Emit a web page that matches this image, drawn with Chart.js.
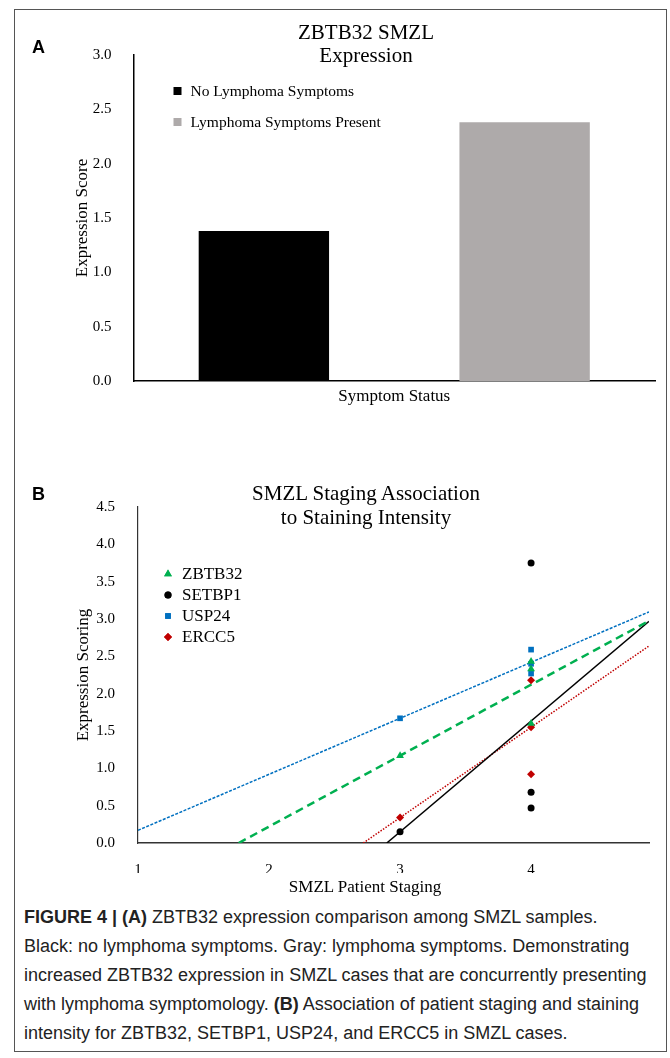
<!DOCTYPE html>
<html>
<head>
<meta charset="utf-8">
<script src="https://cdn.jsdelivr.net/npm/chart.js@4.4.1/dist/chart.umd.min.js"></script>
<style>
  body { margin: 0; width: 670px; height: 1058px; position: relative; background: #fff; overflow: hidden; }
  #frame { position: absolute; left: 14px; top: 9px; width: 651px; height: 1041px; border: 1.5px solid #555; }
  .wrap { position: absolute; left: 0; width: 670px; }
  .panel { position: absolute; left: 32px; font: bold 18px "Liberation Sans", Arial, sans-serif; line-height: 18px; }
  .title { position: absolute; left: 216px; width: 300px; text-align: center; font: 21px "Liberation Serif", "Times New Roman", serif; color: #000; }
  .axis-title { position: absolute; left: 215px; width: 300px; text-align: center; font: 17px "Liberation Serif", "Times New Roman", serif; line-height: 20px; color: #000; }
  #caption { position: absolute; left: 24px; top: 903px; font: 18px "Liberation Sans", Arial, sans-serif; line-height: 29px; color: #222; white-space: nowrap; }
</style>
</head>
<body>
<div id="frame"></div>
<div class="wrap" style="top:0;height:430px"><canvas id="chartA"></canvas></div>
<div class="wrap" style="top:430px;height:470px"><canvas id="chartB"></canvas></div>

<div class="panel" style="top:38px">A</div>
<div class="title" style="top:21px;line-height:23px">ZBTB32 SMZL<br>Expression</div>
<div class="panel" style="top:485px">B</div>
<div class="title" style="top:481px;line-height:24px">SMZL Staging Association<br>to Staining Intensity</div>
<div class="axis-title" style="top:877px">SMZL Patient Staging</div>

<div id="caption"><b>FIGURE 4 | (A)</b> ZBTB32 expression comparison among SMZL samples.<br>Black: no lymphoma symptoms. Gray: lymphoma symptoms. Demonstrating<br>increased ZBTB32 expression in SMZL cases that are concurrently presenting<br>with lymphoma symptomology. <b>(B)</b> Association of patient staging and staining<br>intensity for ZBTB32, SETBP1, USP24, and ERCC5 in SMZL cases.</div>

<script>
// panel A - bars
const symptomGroups = ['No Lymphoma Symptoms', 'Lymphoma Symptoms Present'];
const symptomScores = [1.38, 2.38];
const symptomColors = ['#000000', '#aeaaaa'];

// panel B - scores by patient stage
const geneNames = ['ZBTB32', 'SETBP1', 'USP24', 'ERCC5'];
const zbtb32Stage = [3, 4, 4, 4];
const zbtb32Score = [1.17, 1.60, 2.33, 2.43];
const setbp1Stage = [3, 4, 4, 4];
const setbp1Score = [0.15, 3.75, 0.68, 0.47];
const usp24Stage = [3, 4, 4, 4];
const usp24Score = [1.67, 2.59, 2.40, 2.27];
const ercc5Stage = [3, 4, 4, 4];
const ercc5Score = [0.34, 2.18, 1.55, 0.92];
const stageTicks = [1, 2, 3, 4];
const stageMin = 1;
const stageMax = 4.9;

Chart.defaults.font.family = '"Liberation Serif", "Times New Roman", serif';
Chart.defaults.color = '#000';
Chart.defaults.animation = false;

// legend drawn inside the plot
const insideLegend = {
    id: 'insideLegend',
    afterDraw(chart, args, opts) {
        if (!opts.items) return;
        const ctx = chart.ctx;
        const area = chart.chartArea;
        ctx.save();
        ctx.font = opts.font;
        ctx.textBaseline = 'middle';
        opts.items(chart).forEach((item, i) => {
            const x = area.left + opts.x;
            const y = area.top + opts.y + i * opts.rowHeight;
            ctx.fillStyle = item.color;
            if (item.pointStyle) {
                ctx.beginPath();
                Chart.helpers.drawPoint(ctx, { pointStyle: item.pointStyle, radius: item.radius, borderWidth: 0, rotation: 0 }, x, y);
                ctx.fill();
            } else {
                ctx.fillRect(x - item.size / 2, y - item.size / 2, item.size, item.size);
            }
            ctx.fillStyle = '#000';
            ctx.fillText(item.text, area.left + opts.textX, y + 1);
        });
        ctx.restore();
    }
};
Chart.register(insideLegend);

new Chart(document.getElementById('chartA'), {
    type: 'bar',
    data: {
        labels: symptomGroups,
        datasets: [{
            data: symptomScores,
            backgroundColor: symptomColors,
            categoryPercentage: 0.5,
            barPercentage: 1
        }]
    },
    options: {
        responsive: true,
        maintainAspectRatio: false,
        layout: { padding: { left: 68, top: 55, right: 15, bottom: 19 } },
        plugins: {
            legend: { display: false },
            tooltip: { enabled: false },
            insideLegend: {
                font: '15.5px "Liberation Serif", "Times New Roman", serif',
                x: 44, y: 36, rowHeight: 31, textX: 57,
                items: chart => chart.data.labels.map((l, i) => ({
                    text: l, color: chart.data.datasets[0].backgroundColor[i], size: 8
                }))
            }
        },
        scales: {
            x: {
                grid: { display: false },
                border: { display: true, color: '#000', width: 1.5 },
                ticks: { display: false },
                title: { display: true, text: 'Symptom Status', font: { size: 17 } },
                afterFit: s => { s.height = 30; }
            },
            y: {
                min: 0, max: 3,
                grid: { display: false },
                border: { display: true, color: '#000', width: 1.5 },
                ticks: { stepSize: 0.5, padding: 14, font: { size: 15 }, callback: v => v.toFixed(1) },
                title: { display: true, text: 'Expression Score', font: { size: 17 } },
                afterFit: s => { s.width = 65.5; }
            }
        }
    }
});

// least squares trendline, clipped to the axis range and y >= 0
function trendline(xs, ys) {
    const n = xs.length;
    const mx = xs.reduce((a, b) => a + b, 0) / n;
    const my = ys.reduce((a, b) => a + b, 0) / n;
    let sxy = 0, sxx = 0;
    xs.forEach((x, i) => { sxy += (x - mx) * (ys[i] - my); sxx += (x - mx) * (x - mx); });
    const slope = sxy / sxx;
    const icpt = my - slope * mx;
    const x0 = Math.max(stageMin, -icpt / slope);
    return [{ x: x0, y: icpt + slope * x0 }, { x: stageMax, y: icpt + slope * stageMax }];
}

const toPoints = (xs, ys) => xs.map((x, i) => ({ x: x, y: ys[i] }));

const series = [
    { stage: zbtb32Stage, score: zbtb32Score, color: '#00b050', style: 'triangle', r: 4.5, width: 2.5, dash: [8, 5] },
    { stage: setbp1Stage, score: setbp1Score, color: '#000000', style: 'circle', r: 3.5, width: 1.5, dash: [] },
    { stage: usp24Stage, score: usp24Score, color: '#0070c0', style: 'rect', r: 4, width: 1.5, dash: [3, 1.5] },
    { stage: ercc5Stage, score: ercc5Score, color: '#c00000', style: 'rectRot', r: 4, width: 1.5, dash: [1.5, 1.5] }
];

const pointSets = series.map((s, i) => ({
    label: geneNames[i],
    data: toPoints(s.stage, s.score),
    pointStyle: s.style,
    pointRadius: s.r,
    backgroundColor: s.color,
    borderWidth: 0,
    showLine: false
}));
const lineSets = series.map((s, i) => ({
    label: geneNames[i] + ' trend',
    data: trendline(s.stage, s.score),
    borderColor: s.color,
    borderWidth: s.width,
    borderDash: s.dash,
    pointRadius: 0,
    showLine: true,
    fill: false
}));

new Chart(document.getElementById('chartB'), {
    type: 'scatter',
    data: { datasets: pointSets.concat(lineSets) },
    options: {
        responsive: true,
        maintainAspectRatio: false,
        layout: { padding: { left: 69, top: 77, right: 21, bottom: 27 } },
        plugins: {
            legend: { display: false },
            tooltip: { enabled: false },
            insideLegend: {
                font: '17px "Liberation Serif", "Times New Roman", serif',
                x: 30, y: 67, rowHeight: 21, textX: 44,
                items: chart => pointSets.map(d => ({
                    text: d.label, color: d.backgroundColor, pointStyle: d.pointStyle, radius: d.pointRadius
                }))
            }
        },
        scales: {
            x: {
                type: 'linear',
                min: stageMin, max: stageMax,
                grid: { display: false },
                border: { display: true, color: '#333', width: 1.5 },
                ticks: { padding: 10, font: { size: 15 }, color: '#000', includeBounds: false, autoSkip: false, maxRotation: 0 },
                afterBuildTicks: s => { s.ticks = stageTicks.map(v => ({ value: v })); },
                afterFit: s => { s.height = 30; }
            },
            y: {
                min: 0, max: 4.5,
                grid: { display: false },
                border: { display: true, color: '#333', width: 1.2 },
                ticks: { stepSize: 0.5, padding: 15, font: { size: 15 }, callback: v => v.toFixed(1) },
                title: { display: true, text: 'Expression Scoring', font: { size: 17 } },
                afterFit: s => { s.width = 69; }
            }
        }
    }
});
</script>
</body>
</html>
